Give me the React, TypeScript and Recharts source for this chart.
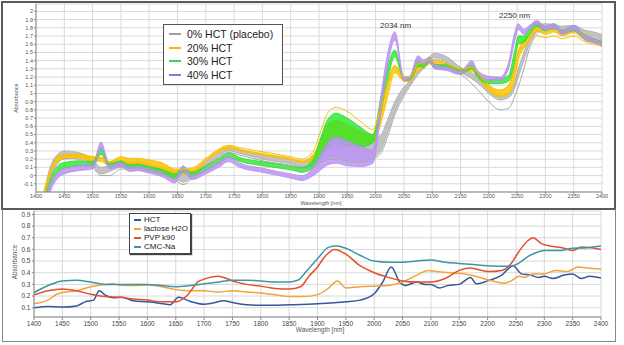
import { ComposedChart, LineChart, Area, Line, XAxis, YAxis, CartesianGrid } from "recharts";

// NIR spectra of the blends (upper panel), absorbance
const wavelengths = [
  1410, 1425, 1440, 1450, 1475, 1500, 1515, 1530, 1550, 1565,
  1580, 1600, 1625, 1645, 1660, 1675, 1700, 1725, 1740, 1760,
  1800, 1850, 1870, 1890, 1905, 1915, 1930, 1950, 1975, 1995,
  2010, 2020, 2034, 2050, 2060, 2075, 2085, 2095, 2105, 2125,
  2150, 2170, 2180, 2200, 2220, 2235, 2245, 2252, 2262, 2272,
  2285, 2300, 2315, 2330, 2350, 2370, 2385, 2400,
];

const placeboLow = [
  -0.45, -0.02, 0.18, 0.23, 0.22, 0.12, 0.02, 0.05, 0.1, 0.1,
  0.1, 0.07, 0.03, -0.03, -0.08, -0.02, 0.12, 0.24, 0.3, 0.27,
  0.2, 0.14, 0.1, 0.12, 0.2, 0.23, 0.23, 0.2, 0.18, 0.22,
  0.32, 0.5, 0.78, 1.0, 1.1, 1.25, 1.33, 1.4, 1.44, 1.38,
  1.26, 1.18, 1.13, 1.0, 0.92, 0.95, 1.05, 1.2, 1.4, 1.6,
  1.75, 1.8, 1.8, 1.78, 1.78, 1.72, 1.7, 1.65,
];
const placeboHigh = [
  -0.35, 0.1, 0.27, 0.3, 0.28, 0.2, 0.1, 0.12, 0.16, 0.17,
  0.18, 0.14, 0.1, 0.05, 0.02, 0.06, 0.18, 0.3, 0.35, 0.32,
  0.26, 0.21, 0.17, 0.25, 0.48, 0.62, 0.67, 0.62, 0.52, 0.45,
  0.5, 0.66, 0.9, 1.08, 1.15, 1.32, 1.38, 1.45, 1.49, 1.45,
  1.32, 1.25, 1.2, 1.08, 0.98, 1.0, 1.12, 1.3, 1.5, 1.68,
  1.82, 1.85, 1.84, 1.82, 1.83, 1.77, 1.75, 1.72,
];
const placeboOutlier = [
  -0.45, -0.04, 0.16, 0.21, 0.2, 0.1, 0.0, 0.0, 0.08, 0.08,
  0.08, 0.05, 0.01, -0.05, -0.11, -0.04, 0.1, 0.22, 0.28, 0.25,
  0.18, 0.12, 0.08, 0.1, 0.17, 0.2, 0.2, 0.18, 0.16, 0.2,
  0.28, 0.45, 0.74, 0.97, 1.08, 1.23, 1.31, 1.38, 1.42, 1.36,
  1.24, 1.12, 1.05, 0.9, 0.8, 0.82, 0.95, 1.08, 1.3, 1.55,
  1.72, 1.78, 1.78, 1.76, 1.76, 1.7, 1.68, 1.63,
];

const hct20Low = [
  -0.4, 0.0, 0.18, 0.2, 0.21, 0.18, 0.17, 0.12, 0.17, 0.14,
  0.14, 0.11, 0.06, 0.0, 0.02, 0.02, 0.17, 0.29, 0.33, 0.3,
  0.25, 0.19, 0.16, 0.2, 0.32, 0.4, 0.45, 0.42, 0.38, 0.4,
  0.65, 0.92, 1.25, 1.15, 1.14, 1.28, 1.3, 1.36, 1.33, 1.32,
  1.26, 1.27, 1.2, 1.03, 0.96, 1.0, 1.15, 1.4, 1.55, 1.66,
  1.76, 1.72, 1.75, 1.7, 1.74, 1.65, 1.62, 1.59,
];
const hct20High = [
  -0.3, 0.05, 0.24, 0.25, 0.26, 0.23, 0.22, 0.17, 0.22, 0.2,
  0.2, 0.18, 0.14, 0.07, 0.08, 0.08, 0.2, 0.32, 0.36, 0.32,
  0.27, 0.21, 0.18, 0.26, 0.45, 0.6, 0.66, 0.62, 0.54, 0.5,
  0.85, 1.1, 1.34, 1.2, 1.2, 1.36, 1.38, 1.42, 1.4, 1.37,
  1.3, 1.32, 1.26, 1.1, 1.04, 1.1, 1.3, 1.52, 1.65, 1.72,
  1.83, 1.78, 1.8, 1.76, 1.8, 1.72, 1.68, 1.63,
];
// thin yellow spectrum that strays from the band (top of the 1930 nm hump, bottom after 2270 nm)
const hct20Outlier = [
  -0.3, 0.05, 0.24, 0.25, 0.26, 0.23, 0.22, 0.17, 0.23, 0.21,
  0.21, 0.19, 0.15, 0.08, 0.08, 0.09, 0.21, 0.33, 0.37, 0.34,
  0.29, 0.23, 0.2, 0.3, 0.58, 0.76, 0.83, 0.78, 0.65, 0.56,
  0.85, 1.1, 1.34, 1.2, 1.2, 1.36, 1.38, 1.42, 1.4, 1.37,
  1.3, 1.32, 1.26, 1.1, 1.04, 1.1, 1.3, 1.5, 1.58, 1.63,
  1.7, 1.68, 1.7, 1.67, 1.7, 1.63, 1.6, 1.58,
];

const hct30Low = [
  -0.5, -0.12, 0.05, 0.09, 0.12, 0.12, 0.26, 0.1, 0.13, 0.08,
  0.09, 0.06, 0.02, -0.03, 0.04, -0.01, 0.06, 0.16, 0.22, 0.17,
  0.12, 0.07, 0.04, 0.1, 0.25, 0.34, 0.39, 0.36, 0.35, 0.4,
  0.8, 1.12, 1.45, 1.16, 1.16, 1.33, 1.32, 1.38, 1.3, 1.3,
  1.24, 1.3, 1.2, 1.12, 1.12, 1.15, 1.35, 1.6, 1.62, 1.72,
  1.82, 1.76, 1.8, 1.73, 1.76, 1.66, 1.63, 1.6,
];
const hct30High = [
  -0.4, -0.05, 0.13, 0.16, 0.18, 0.17, 0.34, 0.15, 0.18, 0.13,
  0.14, 0.11, 0.07, 0.02, 0.1, 0.04, 0.12, 0.22, 0.28, 0.22,
  0.17, 0.12, 0.1, 0.2, 0.5, 0.68, 0.76, 0.7, 0.58, 0.5,
  0.98, 1.28, 1.53, 1.2, 1.2, 1.42, 1.38, 1.44, 1.35, 1.35,
  1.29, 1.35, 1.25, 1.17, 1.18, 1.22, 1.5, 1.7, 1.7, 1.8,
  1.87, 1.81, 1.85, 1.77, 1.81, 1.71, 1.67, 1.64,
];

const hct40Low = [
  -0.6, -0.2, -0.02, 0.02, 0.06, 0.08, 0.33, 0.08, 0.11, 0.05,
  0.06, 0.03, -0.02, -0.09, 0.06, -0.05, 0.02, 0.11, 0.17, 0.1,
  0.04, -0.03, -0.06, 0.0, 0.08, 0.13, 0.15, 0.12, 0.11, 0.15,
  0.8, 1.28, 1.65, 1.15, 1.17, 1.38, 1.36, 1.38, 1.3, 1.28,
  1.23, 1.34, 1.24, 1.16, 1.16, 1.3, 1.62, 1.78, 1.72, 1.78,
  1.84, 1.77, 1.8, 1.72, 1.78, 1.65, 1.62, 1.57,
];
const hct40High = [
  -0.5, -0.12, 0.05, 0.08, 0.12, 0.13, 0.41, 0.12, 0.16, 0.1,
  0.11, 0.08, 0.03, -0.04, 0.12, 0.0, 0.07, 0.17, 0.23, 0.15,
  0.09, 0.02, 0.0, 0.1, 0.28, 0.4, 0.47, 0.42, 0.35, 0.31,
  1.0, 1.44, 1.75, 1.2, 1.21, 1.46, 1.41, 1.44, 1.35, 1.32,
  1.27, 1.4, 1.28, 1.21, 1.2, 1.38, 1.72, 1.85, 1.78, 1.83,
  1.89, 1.82, 1.85, 1.77, 1.83, 1.7, 1.67, 1.61,
];

// reference spectra of the pure components (lower panel): [nm, absorbance]
const hctSpectrum: [number, number][] = [
  [1400, 0.1], [1425, 0.11], [1450, 0.105], [1475, 0.115], [1490, 0.15], [1505, 0.165],
  [1515, 0.245], [1525, 0.21], [1540, 0.185], [1555, 0.19], [1575, 0.16], [1600, 0.15],
  [1625, 0.135], [1640, 0.125], [1655, 0.19], [1675, 0.155], [1700, 0.13], [1715, 0.14],
  [1735, 0.16], [1750, 0.145], [1775, 0.125], [1800, 0.12], [1850, 0.125], [1900, 0.133],
  [1950, 0.15], [1975, 0.165], [2000, 0.22], [2015, 0.32], [2030, 0.45], [2045, 0.32],
  [2055, 0.29], [2075, 0.32], [2090, 0.3], [2100, 0.3], [2115, 0.27], [2130, 0.29],
  [2150, 0.3], [2170, 0.36], [2180, 0.305], [2200, 0.33], [2225, 0.38], [2245, 0.46],
  [2260, 0.39], [2275, 0.38], [2290, 0.36], [2300, 0.37], [2315, 0.35], [2335, 0.38],
  [2350, 0.39], [2365, 0.35], [2380, 0.37], [2400, 0.355],
];
const lactoseSpectrum: [number, number][] = [
  [1400, 0.135], [1425, 0.165], [1440, 0.215], [1450, 0.23], [1475, 0.245], [1500, 0.28],
  [1525, 0.3], [1540, 0.305], [1550, 0.295], [1575, 0.29], [1600, 0.295], [1625, 0.28],
  [1650, 0.255], [1675, 0.245], [1700, 0.245], [1725, 0.235], [1750, 0.245], [1775, 0.235],
  [1800, 0.225], [1825, 0.21], [1850, 0.195], [1875, 0.195], [1900, 0.212], [1920, 0.27],
  [1935, 0.33], [1950, 0.27], [1975, 0.28], [2000, 0.285], [2025, 0.29], [2050, 0.32],
  [2075, 0.38], [2095, 0.42], [2110, 0.41], [2150, 0.395], [2175, 0.375], [2200, 0.34],
  [2230, 0.31], [2245, 0.34], [2255, 0.37], [2265, 0.36], [2280, 0.39], [2300, 0.39],
  [2320, 0.42], [2340, 0.41], [2360, 0.45], [2375, 0.44], [2400, 0.43],
];
const pvpSpectrum: [number, number][] = [
  [1400, 0.21], [1425, 0.245], [1450, 0.26], [1475, 0.245], [1500, 0.215], [1525, 0.195],
  [1550, 0.19], [1575, 0.175], [1600, 0.165], [1625, 0.15], [1650, 0.15], [1670, 0.205],
  [1690, 0.325], [1700, 0.345], [1725, 0.37], [1740, 0.35], [1750, 0.33], [1775, 0.3],
  [1800, 0.285], [1825, 0.265], [1850, 0.26], [1870, 0.28], [1885, 0.37], [1900, 0.45],
  [1915, 0.55], [1930, 0.6], [1950, 0.56], [1975, 0.46], [2000, 0.4], [2025, 0.36],
  [2050, 0.33], [2075, 0.32], [2100, 0.32], [2125, 0.35], [2150, 0.42], [2170, 0.44],
  [2200, 0.41], [2225, 0.42], [2240, 0.47], [2255, 0.58], [2270, 0.67], [2280, 0.7],
  [2295, 0.65], [2310, 0.63], [2335, 0.61], [2350, 0.59], [2365, 0.62], [2400, 0.6],
];
const cmcSpectrum: [number, number][] = [
  [1400, 0.23], [1425, 0.29], [1450, 0.33], [1475, 0.335], [1500, 0.32], [1525, 0.3],
  [1550, 0.3], [1600, 0.3], [1625, 0.29], [1650, 0.28], [1675, 0.29], [1700, 0.305],
  [1725, 0.32], [1750, 0.335], [1775, 0.335], [1800, 0.33], [1825, 0.32], [1850, 0.32],
  [1865, 0.335], [1880, 0.41], [1900, 0.52], [1920, 0.62], [1935, 0.63], [1950, 0.61],
  [1975, 0.55], [2000, 0.5], [2025, 0.49], [2050, 0.49], [2075, 0.5], [2100, 0.51],
  [2125, 0.49], [2150, 0.48], [2175, 0.47], [2200, 0.46], [2235, 0.455], [2250, 0.47],
  [2275, 0.55], [2290, 0.58], [2300, 0.59], [2325, 0.59], [2350, 0.61], [2375, 0.615],
  [2400, 0.63],
];

const nmTicks = [
  1400, 1450, 1500, 1550, 1600, 1650, 1700, 1750, 1800, 1850, 1900,
  1950, 2000, 2050, 2100, 2150, 2200, 2250, 2300, 2350, 2400,
];
const topAbsTicks = [
  -0.1, 0, 0.1, 0.2, 0.3, 0.4, 0.5, 0.6, 0.7, 0.8, 0.9, 1,
  1.1, 1.2, 1.3, 1.4, 1.5, 1.6, 1.7, 1.8, 1.9, 2,
];
const bottomAbsTicks = [0.1, 0.2, 0.3, 0.4, 0.5, 0.6, 0.7, 0.8, 0.9];

const blendLegend = [
  { name: "0% HCT (placebo)", color: "#a0a0a0" },
  { name: "20% HCT", color: "#f5b800" },
  { name: "30% HCT", color: "#3cd65a" },
  { name: "40% HCT", color: "#9b6fd6" },
];
const componentLegend = [
  { name: "HCT", color: "#34589a" },
  { name: "lactose H2O", color: "#f2a23a" },
  { name: "PVP k90", color: "#e4502a" },
  { name: "CMC-Na", color: "#3a98a6" },
];

const blendRows = wavelengths.map((nm, i) => ({
  nm,
  placebo: [placeboLow[i], placeboHigh[i]],
  placeboOut: placeboOutlier[i],
  hct20: [hct20Low[i], hct20High[i]],
  hct20Out: hct20Outlier[i],
  hct30: [hct30Low[i], hct30High[i]],
  hct40: [hct40Low[i], hct40High[i]],
}));

const toRows = (s: [number, number][]) => s.map(([nm, a]) => ({ nm, a }));

const font = "'Liberation Sans', Arial, sans-serif";
const smallTick = { fontSize: 5.5, fill: "#555", fontFamily: font };
const bottomTick = { fontSize: 6.5, fill: "#444", fontFamily: font };

const abs = (style: React.CSSProperties): React.CSSProperties => ({ position: "absolute", ...style });

const BlendLegend = () => (
  <div style={abs({ left: 163, top: 24, width: 118, height: 59, border: "1px solid #555", background: "#fff" })}>
    {blendLegend.map((item, i) => (
      <div key={item.name} style={abs({ left: 0, top: 3 + i * 13.7, height: 12, width: 118 })}>
        <div style={abs({ left: 5, top: 5, width: 12, height: 2, background: item.color })} />
        <div style={abs({ left: 23, top: 0, fontSize: 10.5, lineHeight: "12px", color: "#222", fontFamily: font, whiteSpace: "nowrap" })}>
          {item.name}
        </div>
      </div>
    ))}
  </div>
);

const ComponentLegend = () => (
  <div style={abs({ left: 129, top: 213, width: 60, height: 39, border: "1px solid #444", background: "#fff", boxShadow: "1px 1px 1px #444" })}>
    {componentLegend.map((item, i) => (
      <div key={item.name} style={abs({ left: 0, top: 0.5 + i * 9, height: 9, width: 60 })}>
        <div style={abs({ left: 4, top: 4, width: 7, height: 2, background: item.color })} />
        <div style={abs({ left: 14, top: 0, fontSize: 8, lineHeight: "9px", color: "#222", fontFamily: font, whiteSpace: "nowrap" })}>
          {item.name}
        </div>
      </div>
    ))}
  </div>
);

const AxisTitle = ({ text, x, y, size, rotate }: { text: string; x: number; y: number; size: number; rotate?: boolean }) => (
  <div
    style={abs({
      left: x - 40,
      top: y - 5,
      width: 80,
      height: 10,
      lineHeight: "10px",
      textAlign: "center",
      fontSize: size,
      color: "#555",
      fontFamily: font,
      transform: rotate ? "rotate(-90deg)" : undefined,
    })}
  >
    {text}
  </div>
);

export default function App() {
  return (
    <div style={abs({ left: 0, top: 0, width: 624, height: 345, background: "#fff", overflow: "hidden" })}>
      <div style={abs({ left: 0, top: 0 })}>
        <ComposedChart width={624} height={210} data={blendRows} margin={{ top: 4, right: 22, left: 0, bottom: 0 }}>
          <CartesianGrid stroke="#d9d9d9" strokeWidth={1} />
          <XAxis
            dataKey="nm"
            type="number"
            domain={[1400, 2400]}
            ticks={nmTicks}
            interval={0}
            allowDataOverflow
            height={18}
            tick={smallTick}
            tickSize={2}
            tickMargin={0.5}
            stroke="#888"
          />
          <YAxis
            type="number"
            domain={[-0.2, 2.09]}
            ticks={topAbsTicks}
            interval={0}
            allowDataOverflow
            width={36}
            tick={smallTick}
            tickSize={2}
            tickMargin={1}
            stroke="#888"
          />
          <Area type="monotone" dataKey="placebo" stroke="#a8a8a8" strokeWidth={0.8} fill="#b8b8b8" fillOpacity={0.85} isAnimationActive={false} />
          <Line type="monotone" dataKey="placeboOut" stroke="#a8a8a8" strokeWidth={1} dot={false} isAnimationActive={false} />
          <Area type="monotone" dataKey="hct20" stroke="#f5c000" strokeWidth={0.8} fill="#ffc400" fillOpacity={0.85} isAnimationActive={false} />
          <Line type="monotone" dataKey="hct20Out" stroke="#f5c000" strokeWidth={1} dot={false} isAnimationActive={false} />
          <Area type="monotone" dataKey="hct30" stroke="#22dd22" strokeWidth={0.8} fill="#2ee62e" fillOpacity={0.8} isAnimationActive={false} />
          <Area type="monotone" dataKey="hct40" stroke="#b48af0" strokeWidth={0.8} fill="#bb93f3" fillOpacity={0.85} isAnimationActive={false} />
        </ComposedChart>
      </div>

      <div style={abs({ left: 0, top: 209 })}>
        <LineChart width={624} height={136} margin={{ top: 2, right: 23, left: 0, bottom: 0 }}>
          <CartesianGrid stroke="#d9d9d9" strokeWidth={1} />
          <XAxis
            dataKey="nm"
            type="number"
            domain={[1400, 2400]}
            ticks={nmTicks}
            interval={0}
            allowDataOverflow
            height={28}
            tick={bottomTick}
            tickSize={3}
            tickMargin={1}
            stroke="#888"
          />
          <YAxis
            type="number"
            domain={[0.02, 0.93]}
            ticks={bottomAbsTicks}
            interval={0}
            allowDataOverflow
            width={34}
            tick={bottomTick}
            tickSize={2}
            tickMargin={1.5}
            stroke="#888"
          />
          <Line data={toRows(hctSpectrum)} type="monotone" dataKey="a" stroke="#34589a" strokeWidth={1.5} dot={false} isAnimationActive={false} />
          <Line data={toRows(lactoseSpectrum)} type="monotone" dataKey="a" stroke="#f2a23a" strokeWidth={1.5} dot={false} isAnimationActive={false} />
          <Line data={toRows(pvpSpectrum)} type="monotone" dataKey="a" stroke="#e4502a" strokeWidth={1.5} dot={false} isAnimationActive={false} />
          <Line data={toRows(cmcSpectrum)} type="monotone" dataKey="a" stroke="#3a98a6" strokeWidth={1.5} dot={false} isAnimationActive={false} />
        </LineChart>
      </div>

      <BlendLegend />
      <ComponentLegend />

      <div style={abs({ left: 380, top: 21, fontSize: 8, lineHeight: "10px", color: "#333", fontFamily: font })}>2034 nm</div>
      <div style={abs({ left: 499, top: 11, fontSize: 8, lineHeight: "10px", color: "#333", fontFamily: font })}>2250 nm</div>

      <AxisTitle text="Absorbance" x={16} y={98} size={5.5} rotate />
      <AxisTitle text="Wavelength [nm]" x={321} y={203} size={5.5} />
      <AxisTitle text="Absorbance" x={15} y={262} size={6.5} rotate />
      <AxisTitle text="Wavelength [nm]" x={320} y={330} size={6.5} />

      <div style={abs({ left: 1, top: 1, width: 611, height: 205, border: "2px solid #5a5a5a", pointerEvents: "none" })} />
      <div style={abs({ left: 2, top: 209, width: 612, height: 132, border: "1px solid #888", borderTop: "none", pointerEvents: "none" })} />
    </div>
  );
}
